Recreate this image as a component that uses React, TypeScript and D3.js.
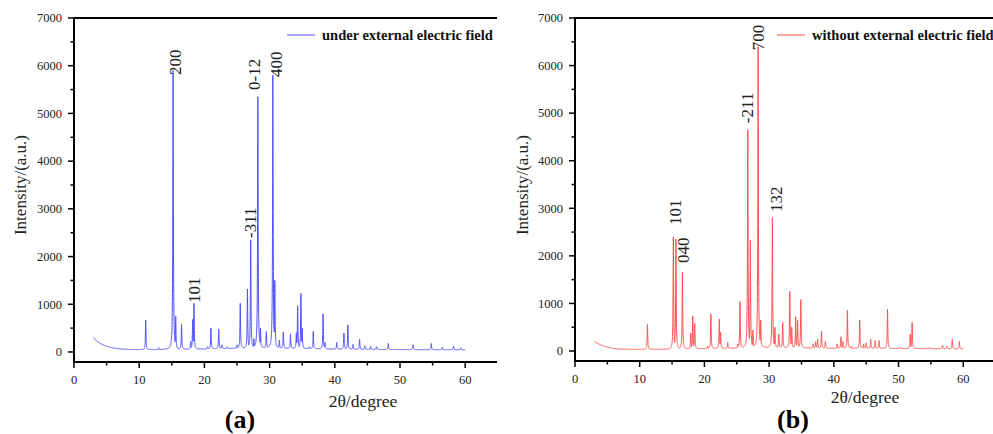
import React from "react";
import * as d3 from "d3";

// ---------- DATA ----------
// Panel (a): under external electric field
const peakPosA = [11.0, 13.0, 15.2, 15.6, 16.5, 17.9, 18.2, 18.4, 20.5, 21.0, 22.2, 22.7, 23.5, 25.0, 25.5, 26.6, 27.1, 27.6, 28.2, 28.6, 29.5, 30.5, 30.8, 31.5, 32.1, 33.2, 34.1, 34.3, 34.8, 35.0, 36.1, 36.7, 38.2, 38.5, 40.3, 41.4, 42.0, 42.8, 43.8, 44.6, 45.5, 46.4, 48.2, 52.0, 54.8, 56.5, 58.2, 59.3];
const peakHtA = [670, 90, 5900, 750, 580, 220, 680, 1020, 110, 500, 480, 150, 110, 150, 1020, 1320, 2350, 280, 5350, 500, 430, 5800, 1500, 250, 420, 380, 400, 970, 1230, 500, 110, 430, 800, 200, 200, 400, 570, 160, 270, 130, 120, 110, 180, 150, 180, 100, 120, 90];
const bgThetaA = [3, 3.5, 4, 4.5, 5, 6, 7, 8, 9, 11, 14, 17, 20, 23, 26, 30, 33, 36, 40, 45, 50, 55, 60];
const bgValA = [300, 230, 180, 145, 120, 85, 65, 55, 50, 48, 50, 58, 62, 72, 78, 80, 75, 70, 60, 55, 50, 48, 45];

// Panel (b): without external electric field
const peakPosB = [11.2, 15.2, 15.6, 16.6, 17.9, 18.2, 18.5, 20.5, 21.0, 22.3, 22.5, 23.6, 25.2, 25.5, 26.7, 27.1, 27.5, 28.3, 28.7, 30.5, 30.9, 31.5, 32.1, 33.2, 33.5, 34.1, 34.4, 34.9, 36.8, 37.2, 37.5, 38.1, 38.7, 40.5, 41.1, 41.4, 42.1, 42.7, 44.0, 44.6, 45.0, 45.7, 46.4, 47.0, 48.3, 50.2, 51.8, 52.1, 54.8, 56.8, 57.5, 58.3, 59.4];
const peakHtB = [560, 2400, 2350, 1650, 380, 740, 580, 100, 780, 670, 400, 180, 150, 1040, 4650, 2330, 440, 6400, 650, 2800, 500, 350, 600, 1250, 500, 720, 650, 1080, 150, 200, 250, 420, 200, 150, 300, 200, 850, 100, 650, 150, 170, 250, 220, 220, 880, 80, 350, 600, 80, 120, 100, 250, 200];
const bgThetaB = [3, 3.5, 4, 5, 6, 7, 9, 14, 17, 20, 25, 30, 35, 40, 45, 50, 55, 60];
const bgValB = [195, 160, 125, 80, 50, 40, 35, 35, 45, 50, 60, 70, 65, 55, 55, 50, 50, 45];

// Peak annotations: text, label centre (2θ), label start (intensity)
const labelTextA = ["200", "101", "-311", "0-12", "400"];
const labelThetaA = [15.5, 18.55, 27.0, 27.76, 31.1];
const labelValA = [5807, 1027, 2390, 5493, 5765];
const labelTextB = ["700", "-211", "101", "040", "132"];
const labelThetaB = [28.3, 26.6, 15.6, 16.7, 31.1];
const labelValB = [6323, 4790, 2647, 1849, 2920];

const xMajorTicks = [0, 10, 20, 30, 40, 50, 60];
const xMinorTicks = [5, 15, 25, 35, 45, 55, 65];
const yMajorTicks = [0, 1000, 2000, 3000, 4000, 5000, 6000, 7000];
const yMinorTicks = [500, 1500, 2500, 3500, 4500, 5500, 6500];

const FONT = "'Liberation Serif', 'Times New Roman', serif";

function buildSeries(pos: number[], ht: number[], bgT: number[], bgV: number[]) {
  const bg = d3.scaleLinear(bgT, bgV).clamp(true);
  const w = 0.05;
  const xs: number[] = d3.range(3, 60.0001, 0.01).concat(pos);
  xs.sort((a, b) => a - b);
  return xs.map((t) => {
    const b = bg(t);
    let v = b;
    for (let i = 0; i < pos.length; i++) {
      const d = (t - pos[i]) / w;
      const val = b + (ht[i] - b) / (1 + d * d);
      if (val > v) v = val;
    }
    return [t, v] as [number, number];
  });
}

type PanelProps = {
  x0: number; x1: number; yAxisY: number;
  color: string; legend: string; legendX: number;
  pos: number[]; ht: number[]; bgT: number[]; bgV: number[];
  lt: string[]; lth: number[]; lv: number[];
  titleYX: number; titleXX: number; titleXY: number;
  tag: string; tagX: number; clipRight: number; id: string;
};

function Panel(p: PanelProps) {
  const x = d3.scaleLinear([0, 65], [p.x0, p.x1]);
  const y = d3.scaleLinear([-210, 7000], [p.yAxisY, 18]);
  const data = buildSeries(p.pos, p.ht, p.bgT, p.bgV);
  const line = d3.line<[number, number]>().x((d) => x(d[0])).y((d) => y(d[1]));
  const right = Math.min(p.x1, p.clipRight);
  return (
    <g>
      <defs>
        <clipPath id={p.id}>
          <rect x={p.x0 - 20} y={0} width={right - p.x0 + 20} height={434} />
        </clipPath>
      </defs>
      <g clipPath={`url(#${p.id})`}>
        <path d={line(data) || ""} fill="none" stroke={p.color} strokeWidth={1} />
        <line x1={p.x0} x2={p.x1} y1={18} y2={18} stroke="#000" strokeWidth={2} />
        <line x1={p.x0 - 1} x2={p.x1} y1={p.yAxisY} y2={p.yAxisY} stroke="#000" strokeWidth={2} />
        {xMajorTicks.map((t) => (
          <line key={"xm" + t} x1={x(t)} x2={x(t)} y1={p.yAxisY} y2={p.yAxisY + 6} stroke="#000" strokeWidth={1.5} />
        ))}
        {xMinorTicks.map((t) => (
          <line key={"xn" + t} x1={x(t)} x2={x(t)} y1={p.yAxisY} y2={p.yAxisY + 3.5} stroke="#000" strokeWidth={1.5} />
        ))}
      </g>
      <line x1={p.x0} x2={p.x0} y1={17} y2={p.yAxisY + 1} stroke="#000" strokeWidth={2} />
      {yMajorTicks.map((t) => (
        <line key={"ym" + t} x1={p.x0 - 6} x2={p.x0} y1={y(t)} y2={y(t)} stroke="#000" strokeWidth={1.5} />
      ))}
      {yMinorTicks.map((t) => (
        <line key={"yn" + t} x1={p.x0 - 3.5} x2={p.x0} y1={y(t)} y2={y(t)} stroke="#000" strokeWidth={1.5} />
      ))}
      {yMajorTicks.map((t) => (
        <text key={"yl" + t} x={p.x0 - 12} y={y(t) + 4.3} textAnchor="end" fontSize={12.5} fontFamily={FONT} fill="#222">
          {t}
        </text>
      ))}
      {xMajorTicks.map((t) => (
        <text key={"xl" + t} x={x(t)} y={p.yAxisY + 22} textAnchor="middle" fontSize={12.5} fontFamily={FONT} fill="#222">
          {t}
        </text>
      ))}
      {p.lt.map((s, i) => (
        <text
          key={"pl" + i}
          transform={`translate(${x(p.lth[i])},${y(p.lv[i])}) rotate(-90)`}
          dominantBaseline="central"
          textAnchor="start"
          fontSize={17}
          fontFamily={FONT}
          fill="#222"
        >
          {s}
        </text>
      ))}
      <line x1={p.legendX} x2={p.legendX + 28} y1={35} y2={35} stroke={p.color} strokeWidth={1} />
      <text x={p.legendX + 35} y={40} fontSize={14.5} fontWeight="bold" fontFamily={FONT} fill="#111">
        {p.legend}
      </text>
      <text transform={`translate(${p.titleYX},185) rotate(-90)`} textAnchor="middle" dominantBaseline="central" fontSize={17} fontFamily={FONT} fill="#222">
        Intensity/(a.u.)
      </text>
      <text x={p.titleXX} y={p.titleXY} textAnchor="middle" fontSize={17.5} fontFamily={FONT} fill="#222">
        2θ/degree
      </text>
      <text x={p.tagX} y={428} textAnchor="middle" fontSize={26} fontWeight="bold" fontFamily={FONT} fill="#000">
        {p.tag}
      </text>
    </g>
  );
}

export default function App() {
  return (
    <svg width={993} height={434} style={{ position: "absolute", left: 0, top: 0, background: "#fff" }}>
      <rect width={993} height={434} fill="#fff" />
      <Panel
        id="clipA" x0={74} x1={497.8} yAxisY={362} color="#5050ff"
        legend="under external electric field" legendX={287}
        pos={peakPosA} ht={peakHtA} bgT={bgThetaA} bgV={bgValA}
        lt={labelTextA} lth={labelThetaA} lv={labelValA}
        titleYX={20} titleXX={363} titleXY={407} tag="(a)" tagX={240} clipRight={497}
      />
      <Panel
        id="clipB" x0={575} x1={995.6} yAxisY={361} color="#ff5050"
        legend="without external electric field" legendX={777}
        pos={peakPosB} ht={peakHtB} bgT={bgThetaB} bgV={bgValB}
        lt={labelTextB} lth={labelThetaB} lv={labelValB}
        titleYX={522} titleXX={865} titleXY={403} tag="(b)" tagX={793} clipRight={993}
      />
    </svg>
  );
}
